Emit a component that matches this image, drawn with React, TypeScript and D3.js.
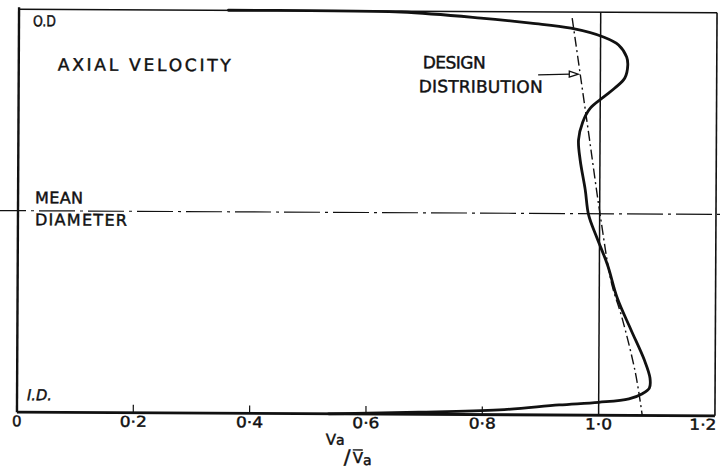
import React from "react";
import * as d3 from "d3";

// Radial position: 0 = inner diameter (I.D.), 1 = outer diameter (O.D.)
// Measured axial velocity ratio Va / mean Va across the annulus
const measuredV = [0.36, 0.50, 0.657, 0.794, 0.880, 0.949, 1.006, 1.031, 1.045, 1.047, 1.042, 1.025, 1.006, 0.983, 0.970, 0.963, 0.966, 0.975, 0.981, 0.995, 1.014, 1.031, 1.055, 1.078, 1.088, 1.087, 1.075, 1.052, 1.000, 0.932, 0.829, 0.691, 0.536];
const measuredR = [1.0, 1.0, 0.998, 0.984, 0.972, 0.960, 0.938, 0.919, 0.889, 0.869, 0.837, 0.812, 0.790, 0.762, 0.727, 0.683, 0.633, 0.559, 0.497, 0.442, 0.373, 0.291, 0.212, 0.138, 0.093, 0.068, 0.054, 0.041, 0.032, 0.025, 0.012, 0.005, 0.0];

// Design distribution (dash-dot)
const designV = [0.951, 0.965, 0.982, 1.001, 1.021, 1.039, 1.063, 1.075];
const designR = [0.985, 0.849, 0.683, 0.496, 0.328, 0.244, 0.105, 0.0];

const xTicks = [0, 0.2, 0.4, 0.6, 0.8, 1.0, 1.2];
const xTickLabels = ["0", "0·2", "0·4", "0·6", "0·8", "1·0", "1·2"];
const meanDiameterR = 0.5;
const referenceV = 1.0;
const arrowTip = { v: 0.962, r: 0.846 };
const arrowTailV = 0.893;

const W = 725;
const H = 472;
const FONT = "'DejaVu Sans', 'Open Sans', sans-serif";
const INK = "#111";

// lettering: slightly heavier than the regular face
const letter = { fontFamily: FONT, fill: INK, stroke: INK, strokeWidth: 0.45 };

export default function App() {
  const x = d3.scaleLinear().domain([0, 1.2]).range([18, 716]);
  const y = d3.scaleLinear().domain([0, 1]).range([414, 11]);

  const measured = measuredV.map((v, i) => [v, measuredR[i]] as [number, number]);
  const design = designV.map((v, i) => [v, designR[i]] as [number, number]);

  const line = d3
    .line<[number, number]>()
    .x((d) => x(d[0]))
    .y((d) => y(d[1]))
    .curve(d3.curveCatmullRom.alpha(0.5));

  const [x0, x1] = x.range();
  const [yb, yt] = y.range();
  const tipX = x(arrowTip.v);
  const tipY = y(arrowTip.r);

  return (
    <svg
      width={W}
      height={H}
      viewBox={`0 0 ${W} ${H}`}
      style={{ position: "absolute", left: 0, top: 0, background: "#fff" }}
    >
      <rect width={W} height={H} fill="#fff" />
      <g transform="rotate(0.3 367 212)">
        {/* frame */}
        <line x1={x0} y1={yt} x2={x1} y2={yt} stroke={INK} strokeWidth={1.5} />
        <line x1={x1} y1={yt} x2={x1} y2={yb} stroke={INK} strokeWidth={1.6} />
        <line x1={x0} y1={yt - 2} x2={x0} y2={yb} stroke={INK} strokeWidth={2.4} />
        <line x1={x0} y1={yb} x2={x1} y2={yb} stroke={INK} strokeWidth={2.8} />

        {/* reference line at Va / mean Va = 1 */}
        <line x1={x(referenceV)} y1={yt} x2={x(referenceV)} y2={yb} stroke={INK} strokeWidth={1.5} />

        {/* inward ticks */}
        {xTicks
          .filter((t) => t > 0 && t < 1)
          .map((t) => (
            <line key={t} x1={x(t)} y1={yb} x2={x(t)} y2={yb - 8} stroke={INK} strokeWidth={1.2} />
          ))}

        {/* mean diameter chain line */}
        <line
          x1={-10}
          y1={y(meanDiameterR)}
          x2={W + 10}
          y2={y(meanDiameterR)}
          stroke={INK}
          strokeWidth={1.2}
          strokeDasharray="36 5 3 5"
        />

        {/* design distribution */}
        <path d={line(design) || ""} fill="none" stroke={INK} strokeWidth={1.4} strokeDasharray="10 3.5 2 3.5" />

        {/* measured profile */}
        <path d={line(measured) || ""} fill="none" stroke={INK} strokeWidth={2.8} strokeLinejoin="round" strokeLinecap="round" />

        {/* leader arrow */}
        <line x1={x(arrowTailV)} y1={tipY + 1} x2={tipX - 8} y2={tipY} stroke={INK} strokeWidth={1.2} />
        <path
          d={`M${tipX - 9},${tipY - 3} L${tipX},${tipY} L${tipX - 9},${tipY + 3} Z`}
          fill="#fff"
          stroke={INK}
          strokeWidth={1.3}
        />

        {/* tick labels */}
        {xTicks.map((t, i) => (
          <text
            key={t}
            x={i === xTicks.length - 1 ? x(t) - 12 : x(t)}
            y={428}
            fontSize={15}
            textAnchor="middle"
            textLength={i === 0 ? undefined : 27}
            lengthAdjust="spacingAndGlyphs"
            {...letter}
          >
            {xTickLabels[i]}
          </text>
        ))}

        {/* annotations */}
        <text x={32} y={28} fontSize={15} textLength={23} lengthAdjust="spacingAndGlyphs" {...letter}>
          O.D
        </text>
        <text x={57} y={72} fontSize={17} textLength={173} lengthAdjust="spacing" {...letter}>
          AXIAL  VELOCITY
        </text>
        <text x={422} y={68} fontSize={17} textLength={63} lengthAdjust="spacing" {...letter}>
          DESIGN
        </text>
        <text x={418} y={92} fontSize={17} textLength={124} lengthAdjust="spacing" {...letter}>
          DISTRIBUTION
        </text>
        <text x={35} y={205} fontSize={16} textLength={48} lengthAdjust="spacing" {...letter}>
          MEAN
        </text>
        <text x={35} y={227} fontSize={16} textLength={92} lengthAdjust="spacing" {...letter}>
          DIAMETER
        </text>
        <text x={28} y={402} fontSize={15} fontStyle="italic" textLength={25} lengthAdjust="spacingAndGlyphs" {...letter}>
          I.D.
        </text>

        {/* axis title: Va / mean Va */}
        <text x={327} y={445} fontSize={15} {...letter}>
          V<tspan fontSize={14}>a</tspan>
        </text>
        <text x={345} y={464} fontSize={20} {...letter}>
          /
        </text>
        <line x1={354} y1={450} x2={364} y2={450} stroke={INK} strokeWidth={1.3} />
        <text x={354} y={463} fontSize={15} {...letter}>
          V<tspan fontSize={14} dy={2}>a</tspan>
        </text>
      </g>
    </svg>
  );
}
